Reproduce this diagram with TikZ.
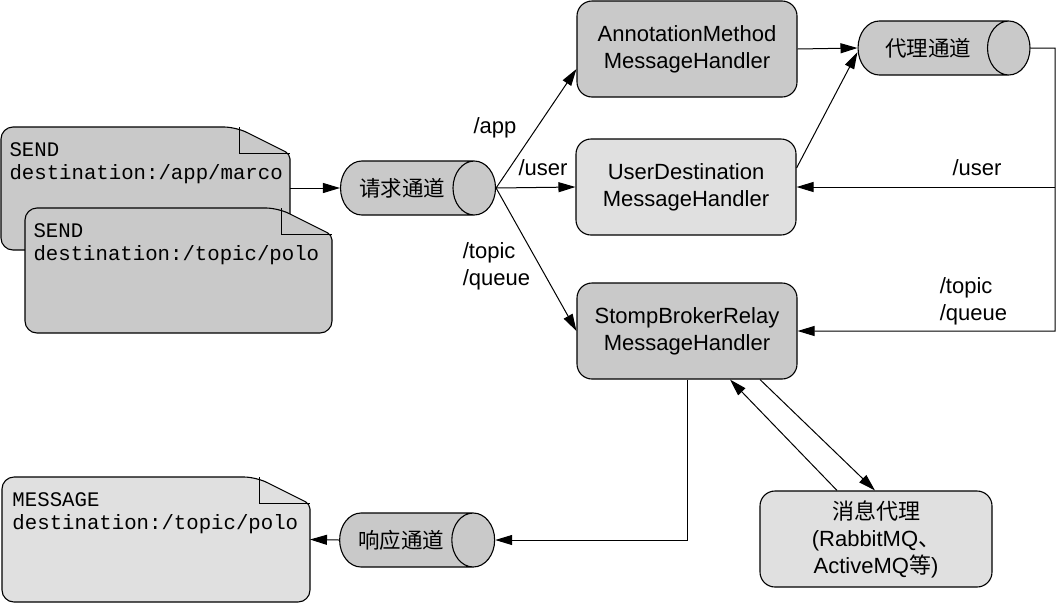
\documentclass[tikz,border=0pt]{standalone}
\usepackage{fontspec}
\setmainfont{Liberation Sans}
\newfontfamily\cjk{Noto Sans CJK SC}
\newfontfamily\mono{Liberation Mono}
\usetikzlibrary{shapes.geometric,arrows.meta}
\definecolor{boxgray}{gray}{0.79}
\definecolor{palegray}{gray}{0.88}

% outline of a page with a folded corner, round a named node
\newcommand{\foldedpage}[2]{%
  \draw[rounded corners=12pt, fill=#2, line width=1.1pt]
    (#1.north west) -- ([xshift=-54pt]#1.north east)
    [rounded corners=5pt] -- ([yshift=-27pt]#1.north east)
    [rounded corners=12pt] -- (#1.south east) -- (#1.south west) -- cycle;
  \draw ([xshift=-51pt]#1.north east) |- ([yshift=-26pt]#1.north east);}

\begin{document}
\begin{tikzpicture}
[x=1pt, y=-1pt, line width=1pt,
>={Triangle[length=17pt,width=10pt]},
every node/.style={font=\fontsize{22}{27}\selectfont},
handler/.style={rectangle, rounded corners=15pt, draw, line width=1.1pt, fill=boxgray, align=center, minimum width=220pt, minimum height=96pt},
paler/.style={handler, fill=palegray},
channel/.style={cylinder, draw, line width=1.1pt, fill=boxgray, shape border rotate=0, aspect=1.6, minimum height=155pt, minimum width=54pt, font=\fontsize{21.5}{27}\selectfont\cjk},
pagearea/.style={rectangle, anchor=north west, inner sep=0, outer sep=0},
pagetext/.style={anchor=north west, inner sep=0, align=left, font=\fontsize{20.7}{23}\selectfont\mono},
route/.style={align=left, anchor=west}]
\useasboundingbox (0,0) rectangle (1056,603);

% frames sent by the client
\node[pagearea, minimum width=289pt, minimum height=123pt] (send1) at (1,127) {};
\foldedpage{send1}{boxgray}
\node[pagetext] (send1text) at ([shift={(8pt,-15pt)}]send1.north west) {SEND\\destination:/app/marco};
\node[pagearea, minimum width=307pt, minimum height=125pt] (send2) at (25,208) {};
\foldedpage{send2}{boxgray}
\node[pagetext] (send2text) at ([shift={(8pt,-15pt)}]send2.north west) {SEND\\destination:/topic/polo};
\node[pagearea, minimum width=308pt, minimum height=125pt] (message) at (2,477) {};
\foldedpage{message}{palegray}
\node[pagetext] (messagetext) at ([shift={(10pt,-15pt)}]message.north west) {MESSAGE\\destination:/topic/polo};

% channels
\node[channel] (request) at (402,188) {请求通道};
\node[channel] (response) at (401,540) {响应通道};
\node[channel, minimum height=172pt] (brokerchannel) at (928,48) {代理通道};

% handlers
\node[handler] (annotation) at (687,49) {AnnotationMethod\\MessageHandler};
\node[paler] (user) at (686,187) {UserDestination\\MessageHandler};
\node[handler] (stomp) at (687,331) {StompBrokerRelay\\MessageHandler};
\node[paler, minimum width=232pt] (broker) at (876,539) {{\cjk 消息代理}\\(RabbitMQ{\cjk 、}\\ActiveMQ{\cjk 等})};

% connectors
\draw[->] (send1.east |- request.west) -- (request.west);
\draw[->] (request.east) -- ([yshift=-20pt]annotation.west);
\draw[->] (request.east) -- (user.west);
\draw[->] (request.east) -- (stomp.west);
\draw[->] (annotation.east) -- (brokerchannel.west);
\draw[->] ([yshift=19pt]user.east) -- ([yshift=-4pt]brokerchannel.west);
\coordinate (turn) at (1055,48);
\draw[->] (brokerchannel.east) -- (turn) |- (stomp.east);
\draw[->] (turn |- user.east) -- (user.east);
\draw[->] (stomp.south) |- (response.east);
\draw[->] (response.west) -- (message.east);
\draw[->] ([xshift=-39pt]broker.north) -- ([xshift=43pt]stomp.south);
\draw[->] ([xshift=73pt]stomp.south) -- ([xshift=-1pt]broker.north);

% destination prefixes
\node (app) at (495,128) {/app};
\node (userroute) at (543,168) {/user};
\node[route] (topicroute) at (459,266) {/topic\\/queue};
\node (userback) at (977,168) {/user};
\node[route] (topicback) at (936,301) {/topic\\/queue};
\end{tikzpicture}
\end{document}
